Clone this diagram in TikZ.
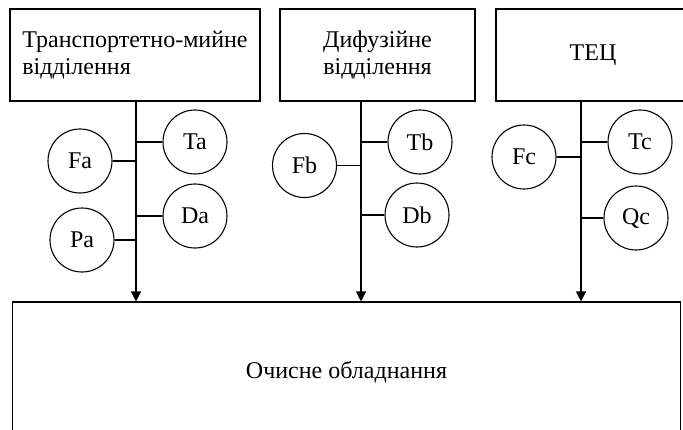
\documentclass[tikz,border=0pt]{standalone}
\usepackage{fontspec}
\setmainfont{Liberation Serif}
\usetikzlibrary{arrows.meta}
\begin{document}
\begin{tikzpicture}[x=1pt,y=-1pt,
  every node/.style={font=\fontsize{24}{27}\selectfont},
  dept/.style={draw,line width=1.1pt,inner sep=0pt},
  param/.style={draw,circle,line width=1.1pt,minimum size=64pt,inner sep=0pt},
  spine/.style={line width=1.2pt,-{Triangle[length=10pt,width=10pt]}},
  tie/.style={line width=1.2pt}]
\useasboundingbox (0,0) rectangle (683,429);
\begin{scope}
\clip (0,0) rectangle (683,429);
% department boxes
\node[dept,minimum width=250pt,minimum height=92pt,align=left] (A) at (135,55)
  {Транспортетно-мийне\\відділення};
\node[dept,minimum width=195pt,minimum height=92pt,align=center] (B) at (377.5,55)
  {Дифузійне\\відділення};
\node[dept,minimum width=194pt,minimum height=92pt] (C) at (593,55) {ТЕЦ};
% treatment equipment
\node[dept,minimum width=668pt,minimum height=140pt] (M) at (346.5,372) {Очисне обладнання};
\end{scope}
% flow lines
\coordinate (sa) at (136,0);
\coordinate (sb) at (361,0);
\coordinate (sc) at (581,0);
\draw[spine] (A.south -| sa) -- (M.north -| sa);
\draw[spine] (B.south -| sb) -- (M.north -| sb);
\draw[spine] (C.south -| sc) -- (M.north -| sc);
% parameters
\node[param] (Fa) at (80,161) {Fa};
\node[param] (Ta) at (195,142) {Ta};
\node[param] (Da) at (195,216) {Da};
\node[param] (Pa) at (82,240) {Pa};
\node[param] (Fb) at (304.5,165.5) {Fb};
\node[param] (Tb) at (420,142) {Tb};
\node[param] (Db) at (417,215) {Db};
\node[param] (Fc) at (524,157) {Fc};
\node[param] (Tc) at (640,142) {Tc};
\node[param] (Qc) at (636,218) {Qc};
\foreach \n/\s in {Fa/sa,Ta/sa,Da/sa,Pa/sa,Fb/sb,Tb/sb,Db/sb,Fc/sc,Tc/sc,Qc/sc}
  \draw[tie] (\n) -- (\n -| \s);
\end{tikzpicture}
\end{document}
